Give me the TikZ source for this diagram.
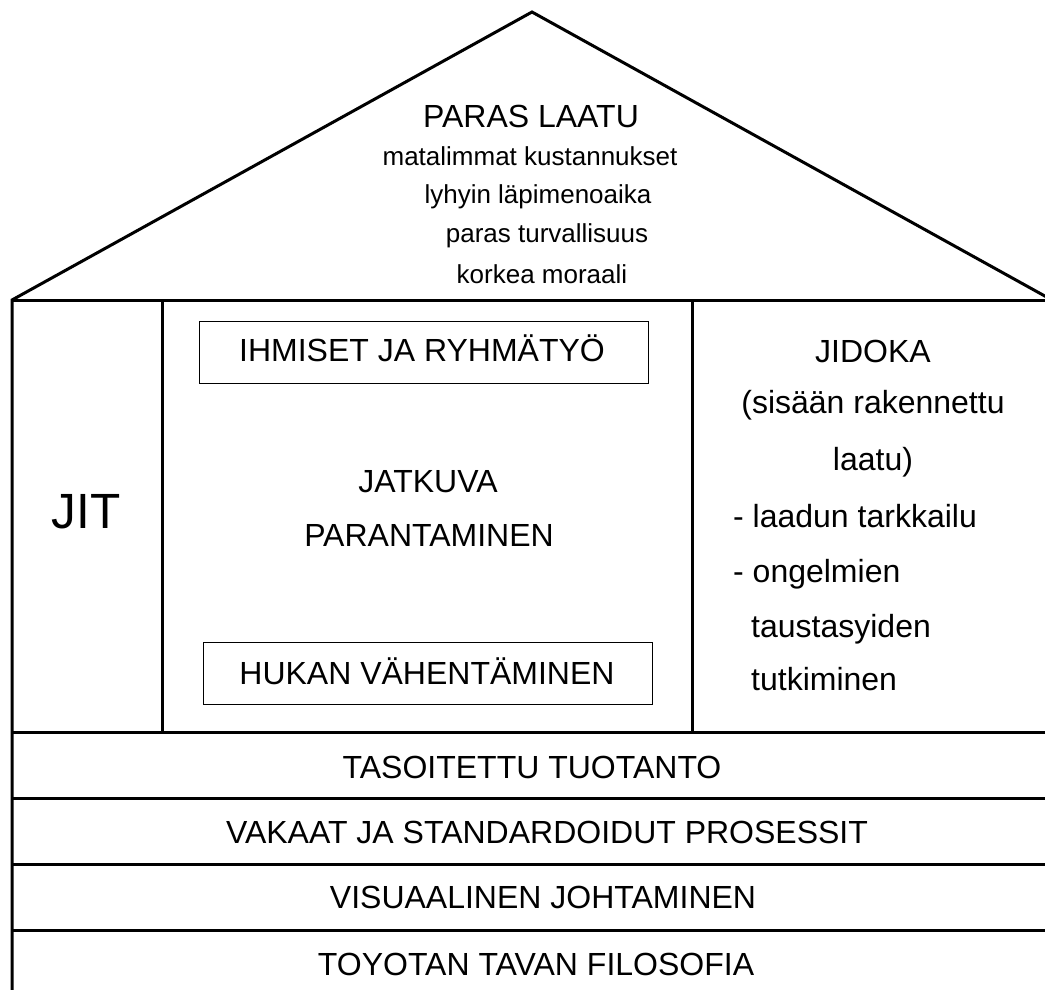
\documentclass[tikz,border=0pt]{standalone}
\usepackage{fontspec}
\setmainfont{Liberation Sans}
\begin{document}
\begin{tikzpicture}[x=1pt,y=-1pt,
  wall/.style={line width=3pt, line join=miter},
  label/.style={inner sep=0pt, font=\fontsize{32}{38}\selectfont},
  roofsub/.style={inner sep=0pt, font=\fontsize{26}{31}\selectfont},
  pillar/.style={inner sep=0pt, font=\fontsize{49.5}{58}\selectfont},
  tagbox/.style={draw, line width=0.8pt, minimum width=449pt, minimum height=62pt, inner sep=0pt}]
\useasboundingbox (0,0) rectangle (1045,990);

% house outline, walls and floors
\begin{scope}
  \clip (0,0) rectangle (1045,990);
  \draw[wall] (12,1010) -- (12,300) -- (532,12) -- (1052,300);
  \draw[wall] (12,300) -- (1060,300);
  \draw[wall] (162,300) -- (162,732);
  \draw[wall] (692,300) -- (692,732);
  \draw[wall] (12,732) -- (1060,732);
  \draw[wall] (12,798) -- (1060,798);
  \draw[wall] (12,864) -- (1060,864);
  \draw[wall] (12,930) -- (1060,930);
\end{scope}

% roof
\node[label, anchor=base] (paras) at (531,128) {PARAS LAATU};
\node[roofsub, anchor=base] (kust) at (530,165) {matalimmat kustannukset};
\node[roofsub, anchor=base] (lapi) at (538,203) {lyhyin läpimenoaika};
\node[roofsub, anchor=base] (turva) at (547,242) {paras turvallisuus};
\node[roofsub, anchor=base] (moraali) at (542,283) {korkea moraali};

% left pillar
\node[pillar, anchor=base] (jit) at (86,528) {JIT};

% middle section
\node[tagbox] (ihmiset) at (423.5,352.5) {};
\node[label, anchor=base] (ihmtxt) at (422,361) {IHMISET JA RYHMÄTYÖ};
\node[label, anchor=base] (jatkuva) at (428,492) {JATKUVA};
\node[label, anchor=base] (paran) at (429,546) {PARANTAMINEN};
\node[tagbox] (hukka) at (427.5,673) {};
\node[label, anchor=base] (huktxt) at (427,684) {HUKAN VÄHENTÄMINEN};

% right pillar
\node[label, anchor=base] (jidoka) at (873,362) {JIDOKA};
\node[label, anchor=base] (sisaan) at (873,413) {(sisään rakennettu};
\node[label, anchor=base] (laatu) at (873,470) {laatu)};
\node[label, anchor=base west] (tark) at (733,527) {- laadun tarkkailu};
\node[label, anchor=base west] (ongel) at (733,582) {- ongelmien};
\node[label, anchor=base west] (tausta) at (751,637) {taustasyiden};
\node[label, anchor=base west] (tutk) at (751,690) {tutkiminen};

% foundation layers
\node[label, anchor=base] (taso) at (532,778) {TASOITETTU TUOTANTO};
\node[label, anchor=base] (vakaat) at (547,843) {VAKAAT JA STANDARDOIDUT PROSESSIT};
\node[label, anchor=base] (visu) at (543,908) {VISUAALINEN JOHTAMINEN};
\node[label, anchor=base] (toyota) at (536,975) {TOYOTAN TAVAN FILOSOFIA};
\end{tikzpicture}
\end{document}
